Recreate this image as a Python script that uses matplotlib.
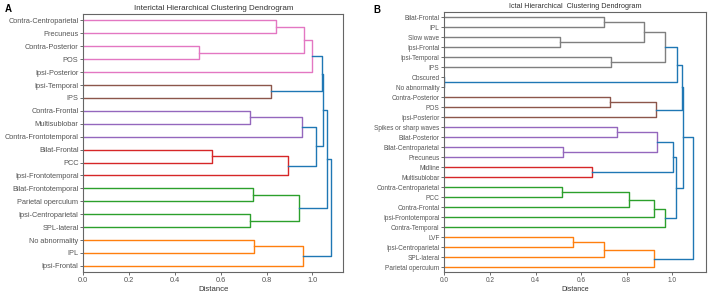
import matplotlib
matplotlib.use("Agg")
import matplotlib.pyplot as plt

plt.rcParams['font.family'] = ['Liberation Sans', 'DejaVu Sans']

# panel A: leaves top to bottom, merges (a, b, height, colour) scipy-style ids
labels_a = ["Contra-Centroparietal", "Precuneus", "Contra-Posterior", "POS",
            "Ipsi-Posterior", "Ipsi-Temporal", "IPS", "Contra-Frontal",
            "Multisublobar", "Contra-Frontotemporal", "Bilat-Frontal", "PCC",
            "Ipsi-Frontotemporal", "Bilat-Frontotemporal", "Parietal operculum",
            "Ipsi-Centroparietal", "SPL-lateral", "No abnormality", "IPL",
            "Ipsi-Frontal"]
merges_a = [(0, 1, 0.841, "C6"), (2, 3, 0.507, "C6"), (20, 21, 0.965, "C6"),
            (22, 4, 0.997, "C6"), (5, 6, 0.818, "C5"), (23, 24, 1.040, "C0"),
            (7, 8, 0.727, "C4"), (26, 9, 0.955, "C4"), (10, 11, 0.561, "C3"),
            (28, 12, 0.894, "C3"), (27, 29, 1.016, "C0"), (25, 30, 1.047, "C0"),
            (13, 14, 0.740, "C2"), (15, 16, 0.727, "C2"), (32, 33, 0.940, "C2"),
            (31, 34, 1.066, "C0"), (17, 18, 0.745, "C1"), (36, 19, 0.959, "C1"),
            (35, 37, 1.081, "C0")]

# panel B
labels_b = ["Bilat-Frontal", "IPL", "Slow wave", "Ipsi-Frontal", "Ipsi-Temporal",
            "IPS", "Obscured", "No abnormality", "Contra-Posterior", "POS",
            "Ipsi-Posterior", "Spikes or sharp waves", "Bilat-Posterior",
            "Bilat-Centroparietal", "Precuneus", "Midline", "Multisublobar",
            "Contra-Centroparietal", "PCC", "Contra-Frontal",
            "Ipsi-Frontotemporal", "Contra-Temporal", "LVF",
            "Ipsi-Centroparietal", "SPL-lateral", "Parietal operculum"]
merges_b = [(0, 1, 0.700, "C7"), (2, 3, 0.507, "C7"), (26, 27, 0.877, "C7"),
            (4, 5, 0.731, "C7"), (28, 29, 0.968, "C7"), (6, 7, 0.0, "C0"),
            (30, 31, 1.022, "C0"), (8, 9, 0.727, "C5"), (33, 10, 0.930, "C5"),
            (32, 34, 1.041, "C0"), (11, 12, 0.759, "C4"), (13, 14, 0.522, "C4"),
            (36, 37, 0.934, "C4"), (15, 16, 0.648, "C3"), (38, 39, 1.004, "C0"),
            (17, 18, 0.518, "C2"), (41, 19, 0.810, "C2"), (42, 20, 0.920, "C2"),
            (43, 21, 0.968, "C2"), (40, 44, 1.016, "C0"), (35, 45, 1.048, "C0"),
            (22, 23, 0.563, "C1"), (47, 24, 0.700, "C1"), (48, 25, 0.921, "C1"),
            (46, 49, 1.092, "C0")]

xticks = [0.0, 0.2, 0.4, 0.6, 0.8, 1.0]


def draw_dendro(ax, labels, merges, title, fs):
    n = len(labels)
    pos = {i: 10 * (n - 1 - i) + 5 for i in range(n)}
    hgt = {i: 0.0 for i in range(n)}
    for k, (a, b, h, c) in enumerate(merges):
        ax.plot([hgt[a], h, h, hgt[b]], [pos[a], pos[a], pos[b], pos[b]],
                color=c, lw=1.0)
        pos[n + k] = (pos[a] + pos[b]) / 2
        hgt[n + k] = h
    top = max(m[2] for m in merges)
    ax.set_xlim(0, top * 1.05)
    ax.set_ylim(0, 10 * n)
    ax.set_yticks([10 * (n - 1 - i) + 5 for i in range(n)])
    ax.set_yticklabels(labels, fontsize=fs, color="#222222")
    ax.set_xticks(xticks)
    ax.set_xticklabels([f"{t:.1f}" for t in xticks], fontsize=fs, color="#333333")
    ax.set_xlabel("Distance", fontsize=fs + 0.3, color="#333333", labelpad=1)
    ax.set_title(title, fontsize=fs + 0.5, color="#333333", pad=3)
    ax.tick_params(length=2, width=0.6, pad=1.5, colors="#555555")
    for s in ax.spines.values():
        s.set_color("#666666")
        s.set_linewidth(0.8)


fig = plt.figure(figsize=(7.09, 2.93), dpi=100)
ax_a = fig.add_axes([0.1175, 0.0706, 0.3667, 0.8816])
ax_b = fig.add_axes([0.6267, 0.0706, 0.3687, 0.8874])

draw_dendro(ax_a, labels_a, merges_a, "Interictal Hierarchical Clustering Dendrogram", 5.3)
draw_dendro(ax_b, labels_b, merges_b, "Ictal Hierarchical  Clustering Dendrogram", 4.7)

fig.text(5 / 709, 1 - 9 / 293, "A", fontsize=7, fontweight="bold", va="center")
fig.text(373 / 709, 1 - 10 / 293, "B", fontsize=7, fontweight="bold", va="center")

fig.savefig("out.png", dpi=100)
